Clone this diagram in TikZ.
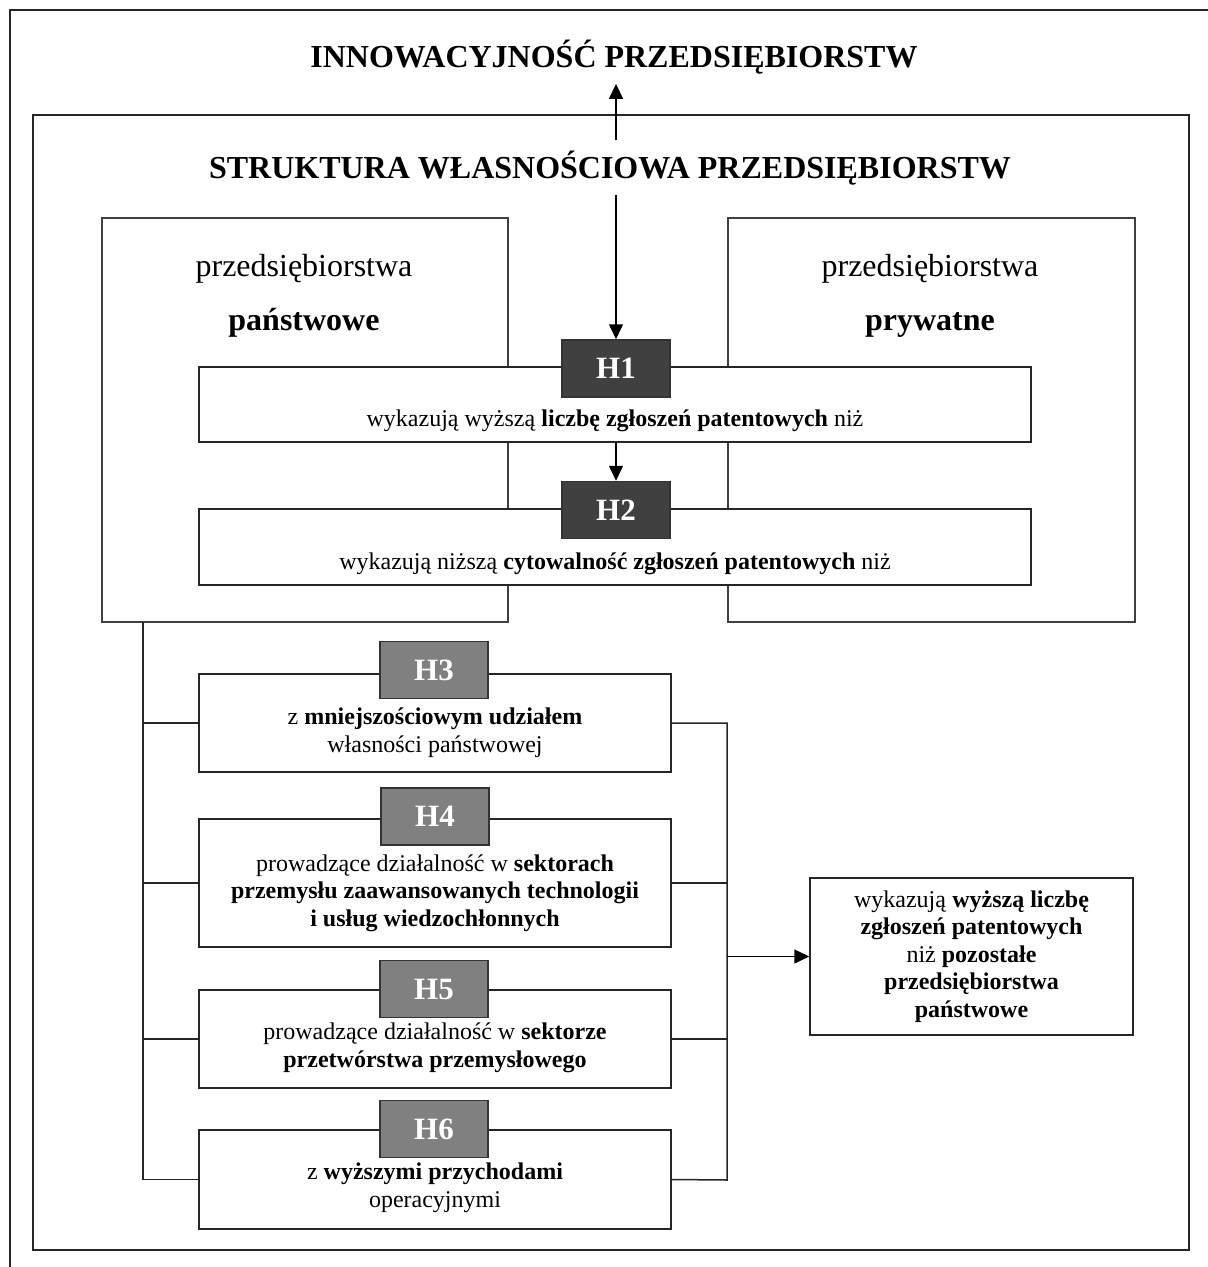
\documentclass[tikz,border=0pt]{standalone}
\usepackage{fontspec}
\setmainfont{Liberation Serif}
\usetikzlibrary{arrows.meta}

\begin{document}
\begin{tikzpicture}[
	x=1pt, y=-1pt,
	frame/.style={draw=black!85, line width=1.8pt},
	title/.style={font=\fontsize{32}{38}\selectfont\bfseries, inner sep=10pt},
	sidebox/.style={
		rectangle,
		draw=black!75,
		line width=1.2pt,
		inner sep=0pt,
	},
	sidetext/.style={font=\fontsize{32}{38}\selectfont, inner sep=0pt},
	rowbox/.style={
		rectangle,
		draw=black!85,
		fill=white,
		line width=1.5pt,
		inner sep=0pt,
	},
	tag/.style={% hypothesis labels
		rectangle,
		draw=black!80,
		line width=1.5pt,
		text=white,
		font=\fontsize{31}{36}\selectfont\bfseries,
		minimum width=108pt,
		minimum height=57pt,
		inner sep=0pt,
	},
	darktag/.style={tag, fill=black!75},
	greytag/.style={tag, fill=black!50},
	body/.style={align=center, font=\fontsize{24}{27.6}\selectfont, inner sep=0pt},
	link/.style={line width=1.5pt, draw=black!85},
	ArrowT/.style={% Arrows with filled triangle tips
		-{Triangle[width=14pt,length=15pt]},
		line width=1.5pt,
	},
]
	\useasboundingbox (0,0) rectangle (1208,1267);
	\draw [frame] (1208,10) -- (10,10) -- (10,1267);
	\draw [frame] (33,115) rectangle (1189,1250);

	\node [title, anchor=base] (innow) at (614,67) {INNOWACYJNOŚĆ PRZEDSIĘBIORSTW};
	\node [title, anchor=base] (struct) at (610,178) {STRUKTURA WŁASNOŚCIOWA PRZEDSIĘBIORSTW};

	\node [sidebox, minimum width=406pt, minimum height=404pt] (pan) at (305,420) {};
	\node [sidebox, minimum width=407pt, minimum height=404pt] (pry) at (931.5,420) {};
	\node [sidetext, anchor=base] (panA) at (304,276) {przedsiębiorstwa};
	\node [sidetext, anchor=base, font=\fontsize{32}{38}\selectfont\bfseries] (panB) at (304,330) {państwowe};
	\node [sidetext, anchor=base] (pryA) at (930,276) {przedsiębiorstwa};
	\node [sidetext, anchor=base, font=\fontsize{32}{38}\selectfont\bfseries] (pryB) at (930,330) {prywatne};

	\node [rowbox, minimum width=832pt, minimum height=75pt] (row1) at (615,404.5) {};
	\node [body, anchor=base] (txt1) at (615,426) {wykazują wyższą \textbf{liczbę zgłoszeń patentowych} niż};
	\node [darktag] (tag1) at (616,368.5) {H1};

	\node [rowbox, minimum width=832pt, minimum height=76pt] (row2) at (615,547) {};
	\node [body, anchor=base] (txt2) at (615,569.5) {wykazują niższą \textbf{cytowalność zgłoszeń patentowych} niż};
	\node [darktag] (tag2) at (616,510) {H2};

	\node [rowbox, minimum width=472pt, minimum height=98pt] (row3) at (435,723) {};
	\node [body] (txt3) at (435,733) {z \textbf{mniejszościowym udziałem}\\własności państwowej};
	\node [greytag] (tag3) at (434,670) {H3};

	\node [rowbox, minimum width=472pt, minimum height=128pt] (row4) at (435,883) {};
	\node [body] (txt4) at (435,893) {prowadzące działalność w \textbf{sektorach}\\\textbf{przemysłu zaawansowanych technologii}\\\textbf{i usług wiedzochłonnych}};
	\node [greytag] (tag4) at (435,816.5) {H4};

	\node [rowbox, minimum width=472pt, minimum height=98pt] (row5) at (435,1039) {};
	\node [body] (txt5) at (435,1048) {prowadzące działalność w \textbf{sektorze}\\\textbf{przetwórstwa przemysłowego}};
	\node [greytag] (tag5) at (434,989) {H5};

	\node [rowbox, minimum width=472pt, minimum height=99pt] (row6) at (435,1179.5) {};
	\node [body] (txt6) at (435,1188) {z \textbf{wyższymi przychodami}\\operacyjnymi};
	\node [greytag] (tag6) at (434,1129) {H6};

	\node [rowbox, body, minimum width=323pt, minimum height=157pt] (res) at (971.5,956.5)
		{wykazują \textbf{wyższą liczbę}\\\textbf{zgłoszeń patentowych}\\niż \textbf{pozostałe}\\\textbf{przedsiębiorstwa}\\\textbf{państwowe}};

	\draw [ArrowT] (struct.north -| tag1.north) -- (innow.south -| tag1.north);
	\draw [ArrowT] (struct.south -| tag1.north) -- (tag1.north);
	\draw [ArrowT] (row1.south -| tag2.north) -- (tag2.north);

	\coordinate (busL) at (143,622);
	\coordinate (busR) at (727,1180);
	\draw [link] (busL) |- (row6.west);
	\foreach \r in {row3,row4,row5}
		\draw [link] (busL |- \r.west) -- (\r.west);
	\draw [link] (row3.east) -| (busR) -- (row6.east);
	\foreach \r in {row4,row5}
		\draw [link] (\r.east) -- (\r.east -| busR);
	\draw [ArrowT] (busR |- res.west) -- (res.west);
\end{tikzpicture}
\end{document}
